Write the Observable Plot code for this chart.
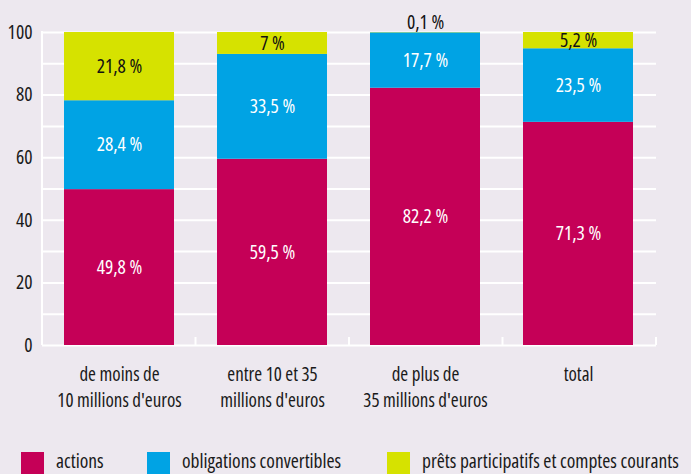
<!DOCTYPE html>
<html><head><meta charset="utf-8">
<script src="https://cdn.jsdelivr.net/npm/d3@7"></script>
<script src="https://cdn.jsdelivr.net/npm/@observablehq/plot@0.6"></script>
<style>
html,body{margin:0;padding:0;background:#ede8ef;overflow:hidden;width:691px;height:474px}
#legend{position:relative;height:29px;overflow:visible;font-family:"Open Sans",sans-serif;font-stretch:75%;font-size:19.5px;color:#1a1a1a}
.sw{position:absolute;top:7px;width:23px;height:22px}
.lb{position:absolute;top:2px;line-height:normal;white-space:nowrap}
</style></head><body><div id="chart"></div><div id="legend"></div>
<script>
const categories = ["de moins de\n10 millions d'euros", "entre 10 et 35\nmillions d'euros", "de plus de\n35 millions d'euros", "total"];
const seriesNames = ["actions", "obligations convertibles", "prêts participatifs et comptes courants"];
const actions = [49.8, 59.5, 82.2, 71.3];
const obligations = [28.4, 33.5, 17.7, 23.5];
const prets = [21.8, 7, 0.1, 5.2];
const yTicks = [0, 20, 40, 60, 80, 100];
const gridValues = [0, 10, 20, 30, 40, 50, 60, 70, 80, 90, 100];
const colors = ["#c50057", "#00a3e4", "#d6e200"];

const FONT = '"Open Sans",sans-serif';
const FS = 19.5;
const series = [actions, obligations, prets];
const rows = [];
categories.forEach((c, i) => {
  let acc = 0;
  series.forEach((vals, si) => {
    const v = vals[i];
    rows.push({cat: c, si, series: seriesNames[si], v, y1: acc, y2: acc + v,
      label: String(v).replace(".", ",") + " %"});
    acc += v;
  });
});

function frameLines(index, scales, values, dims) {
  const {marginLeft: ml, marginRight: mr, marginTop: mt, marginBottom: mb, width: w, height: h} = dims;
  const g = d3.create("svg:g").attr("stroke", "#fff").attr("stroke-width", 2).attr("fill", "none");
  const y0 = h - mb;
  g.append("line").attr("x1", ml).attr("x2", ml).attr("y1", mt - 1).attr("y2", y0);
  const n = categories.length, step = (w - ml - mr) / n;
  for (let i = 0; i <= n; i++) {
    const x = ml + i * step;
    g.append("line").attr("x1", x).attr("x2", x).attr("y1", y0 - 8).attr("y2", y0);
  }
  return g.node();
}

const chart = Plot.plot({
  width: 691,
  height: 445,
  marginTop: 32,
  marginBottom: 100,
  marginLeft: 42,
  marginRight: 35,
  style: {background: "transparent", color: "#1a1a1a", fontFamily: FONT, fontStretch: "75%"},
  x: {domain: categories, paddingInner: 0.28, paddingOuter: 0.14, axis: null},
  y: {domain: [0, 100], axis: null},
  marks: [
    Plot.ruleY(gridValues, {stroke: "#fff", strokeWidth: 2}),
    frameLines,
    Plot.barY(rows, {x: "cat", y1: "y1", y2: "y2", fill: d => colors[d.si]}),
    Plot.text(rows.filter(d => d.v >= 1 && d.si < 2), {x: "cat", y: d => (d.y1 + d.y2) / 2, text: "label", fill: "#fff", fontSize: FS}),
    Plot.text(rows.filter(d => d.v >= 1 && d.si === 2), {x: "cat", y: d => (d.y1 + d.y2) / 2, text: "label", fill: "#111", fontSize: FS}),
    Plot.text(rows.filter(d => d.v < 1), {x: "cat", y: "y2", text: "label", fill: "#111", fontSize: FS, dy: -10}),
    Plot.axisY(yTicks, {tickSize: 0, tickPadding: 10, fontSize: FS, label: null}),
    Plot.text(categories, {x: d => d, text: d => d, frameAnchor: "bottom", lineAnchor: "top", dy: 17.5, fontSize: 19, lineHeight: 1.36, fill: "#1a1a1a"})
  ]
});
document.getElementById("chart").appendChild(chart);

const legend = document.getElementById("legend");
const swLeft = [21, 147, 387];
seriesNames.forEach((name, i) => {
  const sw = document.createElement("div");
  sw.className = "sw"; sw.style.left = swLeft[i] + "px"; sw.style.background = colors[i];
  legend.appendChild(sw);
  const lb = document.createElement("div");
  lb.className = "lb"; lb.style.left = (swLeft[i] + 35) + "px"; lb.textContent = name;
  legend.appendChild(lb);
});
</script></body></html>
